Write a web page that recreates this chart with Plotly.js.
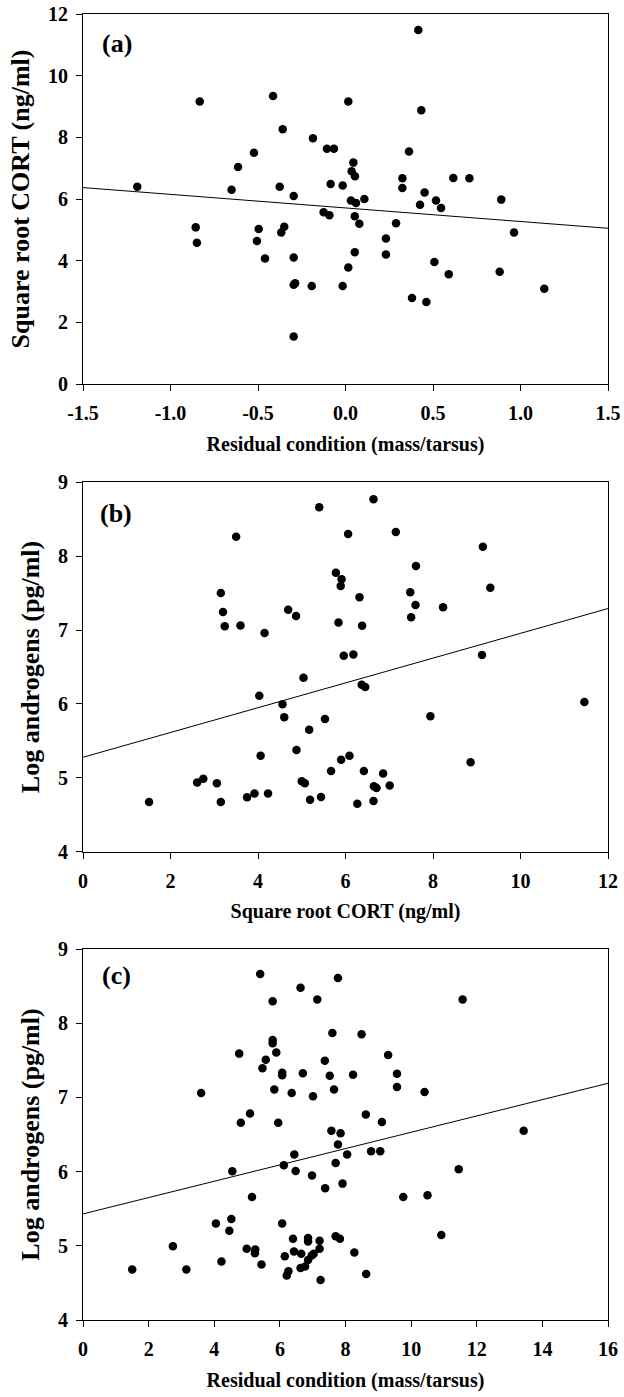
<!DOCTYPE html>
<html>
<head>
<meta charset="utf-8">
<script src="https://cdn.plot.ly/plotly-3.0.1.min.js"></script>
<style>html,body{margin:0;padding:0;background:#fff;}#chart{width:624px;height:1397px;}</style>
</head>
<body>
<div id="chart"></div>
<script>
// Panel (a): residual condition vs square root CORT
const condA = [-1.19,-0.833,-0.856,-0.849,-0.651,-0.614,-0.523,-0.496,-0.506,-0.46,-0.414,-0.359,-0.376,-0.35,-0.367,-0.296,-0.296,-0.296,-0.288,-0.296,-0.193,-0.186,-0.106,-0.066,-0.085,-0.125,-0.092,-0.016,-0.016,0.016,0.016,0.416,0.433,0.363,0.045,0.035,0.054,0.325,0.325,0.616,0.708,0.452,0.031,0.06,0.108,0.426,0.517,0.546,0.89,0.053,0.079,0.289,0.963,0.231,0.231,0.053,0.508,0.59,0.881,1.136,0.38,0.462];
const cortA = [6.40,9.16,5.08,4.58,6.30,7.04,7.50,5.03,4.64,4.07,9.34,8.26,6.40,5.10,4.91,6.10,4.10,3.22,3.27,1.54,3.18,7.97,7.63,7.63,6.49,5.57,5.47,6.44,3.18,9.16,3.78,11.48,8.88,7.54,7.18,6.90,6.74,6.67,6.36,6.68,6.67,6.21,5.95,5.87,6.00,5.81,5.95,5.71,5.98,5.44,5.20,5.21,4.91,4.72,4.20,4.27,3.96,3.56,3.64,3.09,2.79,2.66];
const fitAx = [-1.5, 1.5];
const fitAy = [6.37, 5.05];

// Panel (b): square root CORT vs log androgens
const cortB = [5.40,3.50,5.78,5.91,5.89,3.15,3.20,3.24,3.60,4.15,4.69,4.87,5.84,5.96,6.18,5.04,4.03,4.56,4.60,5.53,5.17,4.88,4.06,5.90,6.09,5.67,2.61,2.75,3.06,5.00,5.07,1.51,3.15,3.75,3.92,4.23,5.19,5.44,6.64,6.06,7.15,9.14,7.61,9.31,6.32,7.48,7.60,8.23,7.50,6.38,9.12,6.37,6.45,11.46,7.94,8.86,6.42,6.86,6.65,6.71,7.01,6.27,6.64];
const androB = [8.66,8.26,7.775,7.685,7.595,7.50,7.243,7.05,7.06,6.96,7.275,7.19,7.10,6.653,6.67,6.356,6.113,5.995,5.82,5.797,5.653,5.378,5.30,5.248,5.30,5.095,4.94,4.99,4.93,4.955,4.93,4.676,4.676,4.74,4.79,4.79,4.707,4.743,8.766,8.297,8.324,8.126,7.865,7.572,7.441,7.509,7.338,7.306,7.171,7.059,6.662,6.26,6.23,6.027,5.833,5.212,5.095,5.06,4.887,4.865,4.90,4.653,4.689];
const fitBx = [0, 12];
const fitBy = [5.28, 7.29];

// Panel (c): residual condition vs log androgens
const condC = [5.40,7.77,6.63,5.78,7.14,7.60,5.78,5.78,4.76,5.57,5.89,5.47,6.07,6.07,6.70,7.37,7.52,5.83,6.36,7.01,7.65,3.60,5.09,4.81,5.95,7.57,7.85,7.77,8.05,6.44,6.12,6.48,4.55,6.98,7.70,7.91,7.38,5.15,4.05,4.52,4.46,6.07,7.70,7.83,2.74,1.50,3.15,4.22,4.99,5.25,5.24,5.44,6.40,6.86,6.86,7.21,7.21,6.15,6.43,6.65,6.97,7.03,6.86,6.77,6.63,6.26,6.21,7.24,11.57,8.49,9.30,8.23,9.57,9.57,10.41,8.62,9.11,13.43,8.78,9.06,11.45,9.76,10.50,10.92,8.27,8.63];
const androC = [8.662,8.608,8.477,8.297,8.32,7.869,7.775,7.73,7.59,7.509,7.604,7.392,7.333,7.30,7.324,7.495,7.293,7.108,7.059,7.014,7.108,7.059,6.784,6.658,6.658,6.55,6.518,6.365,6.23,6.23,6.086,6.009,6.005,5.946,6.117,5.838,5.775,5.658,5.30,5.36,5.203,5.30,5.13,5.095,4.995,4.68,4.68,4.788,4.96,4.95,4.90,4.748,5.095,5.104,5.059,5.068,4.96,4.86,4.923,4.892,4.869,4.892,4.81,4.72,4.70,4.658,4.60,4.54,8.32,7.851,7.572,7.306,7.32,7.14,7.072,6.77,6.667,6.55,6.275,6.275,6.032,5.658,5.68,5.144,4.91,4.62];
const fitCx = [0, 16];
const fitCy = [5.43, 7.19];

// Tick values and labels
const tickA_x = [-1.5,-1.0,-0.5,0.0,0.5,1.0,1.5];
const tickA_xText = ['-1.5','-1.0','-0.5','0.0','0.5','1.0','1.5'];
const tickA_y = [0,2,4,6,8,10,12];
const tickA_yText = ['0','2','4','6','8','10','12'];
const tickB_x = [0,2,4,6,8,10,12];
const tickB_xText = ['0','2','4','6','8','10','12'];
const tickB_y = [4,5,6,7,8,9];
const tickB_yText = ['4','5','6','7','8','9'];
const tickC_x = [0,2,4,6,8,10,12,14,16];
const tickC_xText = ['0','2','4','6','8','10','12','14','16'];
const tickC_y = [4,5,6,7,8,9];
const tickC_yText = ['4','5','6','7','8','9'];

const panelLabels = ['(a)','(b)','(c)'];
const xTitles = ['Residual condition (mass/tarsus)','Square root CORT (ng/ml)','Residual condition (mass/tarsus)'];
const yTitles = ['Square root CORT (ng/ml)','Log androgens (pg/ml)','Log androgens (pg/ml)'];

const FONT = '"Liberation Serif", "Times New Roman", serif';
const mk = {color:'#000', size:8.5};
const ln = {color:'#000', width:1};

const traces = [
  {x:condA, y:cortA, xaxis:'x', yaxis:'y', mode:'markers', type:'scatter', marker:mk, hoverinfo:'skip'},
  {x:fitAx, y:fitAy, xaxis:'x', yaxis:'y', mode:'lines', type:'scatter', line:ln, hoverinfo:'skip'},
  {x:cortB, y:androB, xaxis:'x2', yaxis:'y2', mode:'markers', type:'scatter', marker:mk, hoverinfo:'skip'},
  {x:fitBx, y:fitBy, xaxis:'x2', yaxis:'y2', mode:'lines', type:'scatter', line:ln, hoverinfo:'skip'},
  {x:condC, y:androC, xaxis:'x3', yaxis:'y3', mode:'markers', type:'scatter', marker:mk, hoverinfo:'skip'},
  {x:fitCx, y:fitCy, xaxis:'x3', yaxis:'y3', mode:'lines', type:'scatter', line:ln, hoverinfo:'skip'}
];

function xax(range, vals, text, title, anchor){
  return {
    range: range, domain:[0,1], anchor: anchor,
    showgrid:false, zeroline:false, showline:true, linecolor:'#000', linewidth:1, mirror:true,
    ticks:'outside', ticklen:6, tickwidth:1, tickcolor:'#000',
    tickmode:'array', tickvals: vals, ticktext: text,
    tickfont:{family:FONT, size:20, color:'#000', weight:700},
    ticklabelstandoff: 5,
    title:{text:title, font:{family:FONT, size:20, color:'#000', weight:700}, standoff:13}
  };
}
function yax(range, vals, text, title, domain, anchor){
  return {
    range: range, domain: domain, anchor: anchor,
    showgrid:false, zeroline:false, showline:true, linecolor:'#000', linewidth:1, mirror:true,
    ticks:'outside', ticklen:6, tickwidth:1, tickcolor:'#000',
    tickmode:'array', tickvals: vals, ticktext: text,
    tickfont:{family:FONT, size:20, color:'#000', weight:700},
    ticklabelstandoff: 4,
    title:{text:title, font:{family:FONT, size:26, color:'#000', weight:700}, standoff:10}
  };
}

const layout = {
  width:624, height:1397,
  margin:{l:83, r:16, t:14, b:77},
  paper_bgcolor:'#fff', plot_bgcolor:'#fff',
  showlegend:false,
  font:{family:FONT, color:'#000'},
  xaxis: xax([-1.5,1.5], tickA_x, tickA_xText, xTitles[0], 'y'),
  yaxis: yax([0,12], tickA_y, tickA_yText, yTitles[0], [0.71669,1], 'x'),
  xaxis2: xax([0,12], tickB_x, tickB_xText, xTitles[1], 'y2'),
  yaxis2: yax([4,9], tickB_y, tickB_yText, yTitles[1], [0.35835,0.64165], 'x2'),
  xaxis3: xax([0,16], tickC_x, tickC_xText, xTitles[2], 'y3'),
  yaxis3: yax([4,9], tickC_y, tickC_yText, yTitles[2], [0,0.28407], 'x3'),
  annotations: [
    {text:panelLabels[0], xref:'x domain', yref:'y domain', x:0.032, y:0.919, xanchor:'left', yanchor:'middle', showarrow:false, font:{family:FONT, size:26, color:'#000', weight:700}},
    {text:panelLabels[1], xref:'x2 domain', yref:'y2 domain', x:0.029, y:0.914, xanchor:'left', yanchor:'middle', showarrow:false, font:{family:FONT, size:26, color:'#000', weight:700}},
    {text:panelLabels[2], xref:'x3 domain', yref:'y3 domain', x:0.032, y:0.928, xanchor:'left', yanchor:'middle', showarrow:false, font:{family:FONT, size:26, color:'#000', weight:700}}
  ]
};

Plotly.newPlot('chart', traces, layout, {displayModeBar:false, staticPlot:true});
</script>
</body>
</html>
